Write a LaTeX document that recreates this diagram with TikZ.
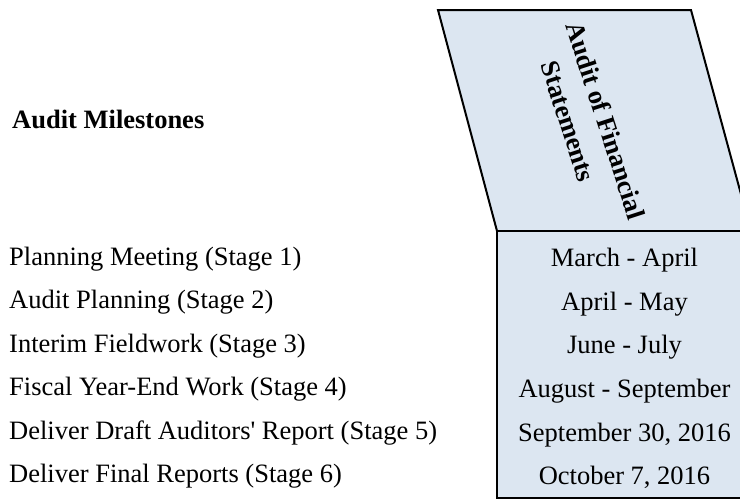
\documentclass[tikz,border=0pt]{standalone}
\usepackage{fontspec}
\setmainfont{Liberation Serif}
\font\rawq="Liberation Serif" at 26.5pt
\definecolor{hdrfill}{RGB}{220,230,241}
\begin{document}
\begin{tikzpicture}[x=1pt,y=-1pt,
  lbl/.style={anchor=base west, inner sep=0pt, font=\fontsize{26.5}{30}\selectfont},
  datelbl/.style={anchor=base, inner sep=0pt, font=\fontsize{26.5}{30}\selectfont},
  hdr/.style={rotate=-72, inner sep=0pt, font=\fontsize{26.5}{30}\selectfont\bfseries},
  box/.style={draw=black, line width=2pt, fill=hdrfill}]
\useasboundingbox (0,0) rectangle (740,501);
\clip (0,0) rectangle (740,501);
% header parallelogram
\coordinate (p1) at (438,10);
\coordinate (p2) at (691,10);
\coordinate (p3) at (751,231);
\coordinate (p4) at (497,231);
\path[box] (p1) -- (p2) -- (p3) -- (p4) -- cycle;
\node[hdr] (h1) at (606,120.5) {Audit of Financial};
\node[hdr] (h2) at (568,121.5) {Statements};
% dates box
\path[box] (497,231) rectangle (752,498);
% title
\node[lbl, font=\fontsize{26.5}{30}\selectfont\bfseries] (title) at (12,128) {Audit Milestones};
% stages
\node[lbl] (s1) at (9,265) {Planning Meeting (Stage 1)};
\node[lbl] (s2) at (9,308.5) {Audit Planning (Stage 2)};
\node[lbl] (s3) at (9,352) {Interim Fieldwork (Stage 3)};
\node[lbl] (s4) at (9,395.5) {Fiscal Year-End Work (Stage 4)};
\node[lbl] (s5) at (9,439) {Deliver Draft Auditors{\rawq'} Report (Stage 5)};
\node[lbl] (s6) at (9,482.5) {Deliver Final Reports (Stage 6)};
% dates
\node[datelbl] (d1) at (624.5,266) {March - April};
\node[datelbl] (d2) at (624.5,310) {April - May};
\node[datelbl] (d3) at (624.5,353) {June - July};
\node[datelbl] (d4) at (624.5,397) {August - September};
\node[datelbl] (d5) at (624.5,441) {September 30, 2016};
\node[datelbl] (d6) at (624.5,484) {October 7, 2016};
\end{tikzpicture}
\end{document}
